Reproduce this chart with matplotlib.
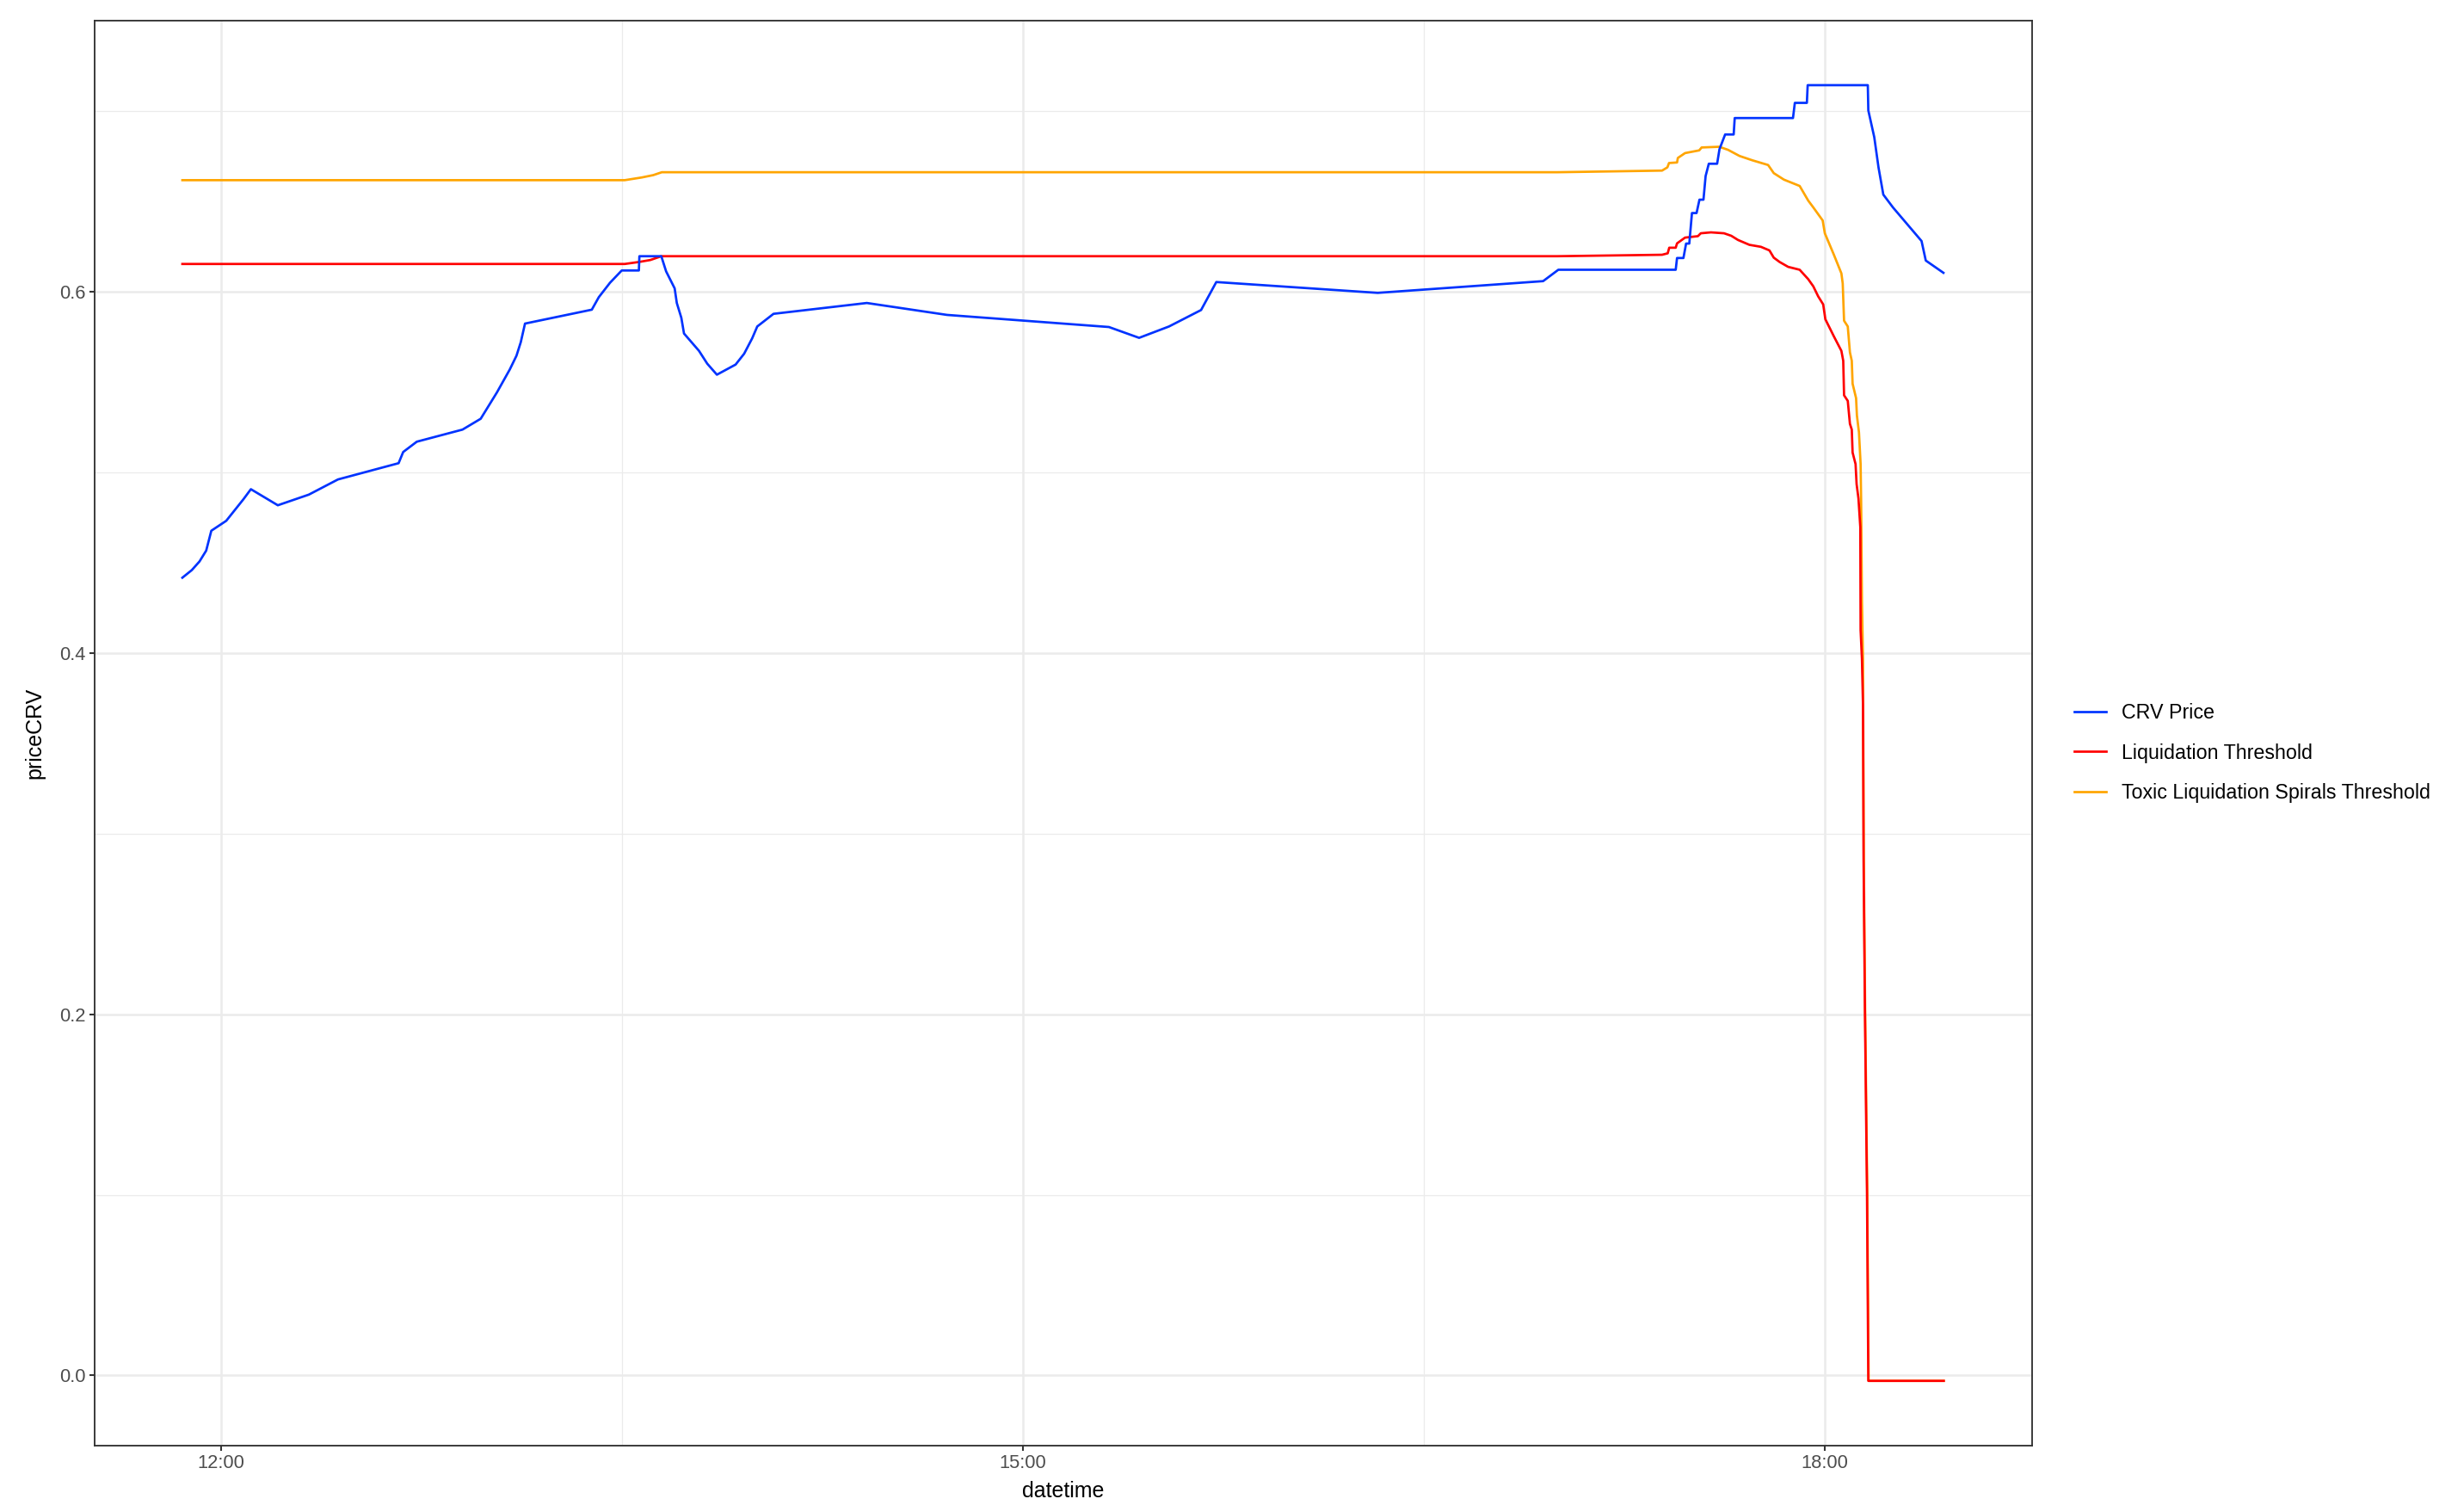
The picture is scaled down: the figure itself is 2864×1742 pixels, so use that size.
import matplotlib
matplotlib.use("Agg")
import matplotlib.pyplot as plt
import matplotlib.dates as mdates
import numpy as np
import pandas as pd

# CRV price vs. liquidation thresholds, 22 Nov 2022 (times of day)
day = "2022-11-22 "

price_times = ["11:51:17", "11:53:24", "11:55:08", "11:56:38", "11:57:47", "12:01:08",
               "12:04:59", "12:06:40", "12:12:43", "12:19:41", "12:26:13", "12:39:50",
               "12:40:52", "12:43:55", "12:54:11", "12:58:16", "13:01:55", "13:04:48",
               "13:06:18", "13:07:16", "13:08:13", "13:23:13", "13:24:47", "13:27:18",
               "13:29:56", "13:33:47", "13:33:54", "13:38:49", "13:39:54", "13:41:49",
               "13:42:18", "13:43:19", "13:43:55", "13:47:17", "13:49:08", "13:51:18",
               "13:55:30", "13:57:25", "13:59:13", "14:00:22", "14:04:01", "14:24:58",
               "14:42:58", "15:19:19", "15:26:06", "15:32:49", "15:40:01", "15:43:26",
               "16:19:41", "16:56:49", "17:00:14", "17:26:35", "17:26:53", "17:28:19",
               "17:28:55", "17:29:38", "17:30:14", "17:31:16", "17:31:55", "17:32:49",
               "17:33:18", "17:34:01", "17:35:53", "17:36:25", "17:37:41", "17:39:36",
               "17:39:50", "17:52:55", "17:53:20", "17:56:02", "17:56:13", "18:09:43",
               "18:09:50", "18:11:10", "18:12:07", "18:13:12", "18:15:22", "18:21:47",
               "18:22:44", "18:26:42"]
price_values = [0.4417, 0.4459, 0.4507, 0.4567, 0.4677, 0.4732,
                0.4851, 0.4907, 0.4818, 0.4877, 0.4961, 0.5051,
                0.5113, 0.5170, 0.5237, 0.5297, 0.5443, 0.5570,
                0.5646, 0.5721, 0.5824, 0.5901, 0.5970, 0.6050,
                0.6118, 0.6118, 0.6197, 0.6197, 0.6113, 0.6019,
                0.5938, 0.5856, 0.5769, 0.5673, 0.5602, 0.5541,
                0.5597, 0.5657, 0.5742, 0.5808, 0.5878, 0.5938,
                0.5872, 0.5805, 0.5745, 0.5808, 0.5899, 0.6054,
                0.5994, 0.6059, 0.6122, 0.6122, 0.6187, 0.6187,
                0.6267, 0.6267, 0.6436, 0.6436, 0.6510, 0.6510,
                0.6641, 0.6709, 0.6709, 0.6790, 0.6871, 0.6871,
                0.6962, 0.6962, 0.7046, 0.7046, 0.7144, 0.7144,
                0.7004, 0.6856, 0.6689, 0.6538, 0.6467, 0.6281,
                0.6173, 0.6105]

liq_times = ["11:51:17", "13:30:36", "13:33:47", "13:36:22", "13:38:49", "17:00:00",
             "17:23:31", "17:24:47", "17:25:08", "17:26:35", "17:26:53", "17:28:41",
             "17:31:34", "17:32:13", "17:34:30", "17:37:26", "17:39:04", "17:40:34",
             "17:43:08", "17:45:43", "17:47:38", "17:48:36", "17:49:55", "17:51:50",
             "17:54:25", "17:56:20", "17:57:29", "17:58:34", "17:59:42", "18:00:11",
             "18:02:06", "18:03:47", "18:04:12", "18:04:23", "18:05:13", "18:05:42",
             "18:06:07", "18:06:18", "18:06:58", "18:07:12", "18:07:37", "18:08:02",
             "18:08:06", "18:08:24", "18:08:38", "18:08:46", "18:09:04", "18:09:32",
             "18:09:50", "18:26:46"]
liq_values = [0.6154, 0.6154, 0.6165, 0.6176, 0.6197, 0.6197,
              0.6205, 0.6213, 0.6244, 0.6244, 0.6268, 0.6300,
              0.6308, 0.6324, 0.6329, 0.6324, 0.6310, 0.6287,
              0.6260, 0.6249, 0.6229, 0.6189, 0.6165, 0.6138,
              0.6122, 0.6070, 0.6030, 0.5975, 0.5930, 0.5848,
              0.5753, 0.5673, 0.5618, 0.5427, 0.5396, 0.5269,
              0.5237, 0.5110, 0.5046, 0.4935, 0.4856, 0.4697,
              0.4127, 0.3967, 0.3713, 0.2856, 0.2021, 0.1010,
              -0.003, -0.003]

toxic_times = ["11:51:17", "13:30:36", "13:34:26", "13:37:01", "13:38:56", "17:00:00",
               "17:23:31", "17:24:43", "17:25:05", "17:26:53", "17:27:04", "17:28:41",
               "17:31:52", "17:32:24", "17:36:22", "17:38:20", "17:40:55", "17:43:48",
               "17:47:20", "17:48:36", "17:50:53", "17:54:25", "17:56:20", "17:57:29",
               "17:59:35", "18:00:04", "18:02:06", "18:03:47", "18:04:05", "18:04:23",
               "18:05:13", "18:05:42", "18:06:07", "18:06:18", "18:07:05", "18:07:16",
               "18:07:44", "18:08:06", "18:08:13", "18:08:24", "18:08:38", "18:08:49",
               "18:09:07", "18:09:36", "18:09:54", "18:26:46"]
toxic_values = [0.6618, 0.6618, 0.6633, 0.6646, 0.6662, 0.6662,
                0.6671, 0.6689, 0.6713, 0.6716, 0.6741, 0.6768,
                0.6783, 0.6799, 0.6803, 0.6786, 0.6752, 0.6728,
                0.6702, 0.6657, 0.6621, 0.6586, 0.6505, 0.6467,
                0.6395, 0.6324, 0.6205, 0.6102, 0.6046, 0.5840,
                0.5808, 0.5665, 0.5618, 0.5491, 0.5411, 0.5316,
                0.5221, 0.5046, 0.4840, 0.4285, 0.3967, 0.2856,
                0.2021, 0.1010, -0.003, -0.003]

series_labels = ["CRV Price", "Liquidation Threshold", "Toxic Liquidation Spirals Threshold"]
series_colors = ["#0033ff", "#ff0000", "#ffa500"]

plt.rcParams["font.family"] = ["Liberation Sans", "DejaVu Sans"]

price_t = pd.to_datetime([day + t for t in price_times])
liq_t = pd.to_datetime([day + t for t in liq_times])
toxic_t = pd.to_datetime([day + t for t in toxic_times])

fig = plt.figure(figsize=(2864 / 150, 1742 / 150), dpi=150)
ax = fig.add_axes([0.03827, 0.03559, 0.78633, 0.95081])

lw = 1.3
h_toxic, = ax.plot(toxic_t, toxic_values, color=series_colors[2], lw=lw)
h_liq, = ax.plot(liq_t, liq_values, color=series_colors[1], lw=lw)
h_price, = ax.plot(price_t, price_values, color=series_colors[0], lw=lw)

# ggplot-like 5% expansion of the data range
all_t = mdates.date2num(np.concatenate([price_t.values, liq_t.values, toxic_t.values]))
all_v = np.concatenate([price_values, liq_values, toxic_values])
tpad = 0.05 * (all_t.max() - all_t.min())
vpad = 0.05 * (all_v.max() - all_v.min())
ax.set_xlim(all_t.min() - tpad, all_t.max() + tpad)
ax.set_ylim(all_v.min() - vpad, all_v.max() + vpad)

# ticks and grid
ax.xaxis.set_major_locator(mdates.HourLocator(byhour=[12, 15, 18]))
ax.xaxis.set_minor_locator(matplotlib.ticker.FixedLocator(
    mdates.date2num(pd.to_datetime([day + "13:30", day + "16:30"]))))
ax.xaxis.set_major_formatter(mdates.DateFormatter("%H:%M"))
ax.set_yticks([0.0, 0.2, 0.4, 0.6])
ax.set_yticklabels(["0.0", "0.2", "0.4", "0.6"])
ax.set_yticks([0.1, 0.3, 0.5, 0.7], minor=True)

ax.grid(which="major", color="#ebebeb", lw=1.2)
ax.grid(which="minor", color="#ebebeb", lw=0.6)
ax.set_axisbelow(True)
ax.tick_params(which="major", length=2.75, width=1.0, color="#333333",
               labelsize=10.5, labelcolor="#4d4d4d", pad=2.2)
ax.tick_params(which="minor", length=0)
for s in ax.spines.values():
    s.set_color("#333333")
    s.set_linewidth(0.9)

# axis titles, x title sits right at the bottom edge as in the original
fig.text(0.4314, 0.001, "datetime", ha="center", va="baseline", fontsize=12)
fig.text(0.0140, 0.5109, "priceCRV", ha="center", va="center", rotation=90, fontsize=12)

ax.legend([h_price, h_liq, h_toxic], series_labels, loc="center left",
          bbox_to_anchor=(0.8418, 0.4977), bbox_transform=fig.transFigure,
          frameon=False, fontsize=11.2, handlelength=1.58, handletextpad=0.8,
          labelspacing=1.0, borderpad=0, borderaxespad=0)

fig.savefig("out.png", dpi=150)
